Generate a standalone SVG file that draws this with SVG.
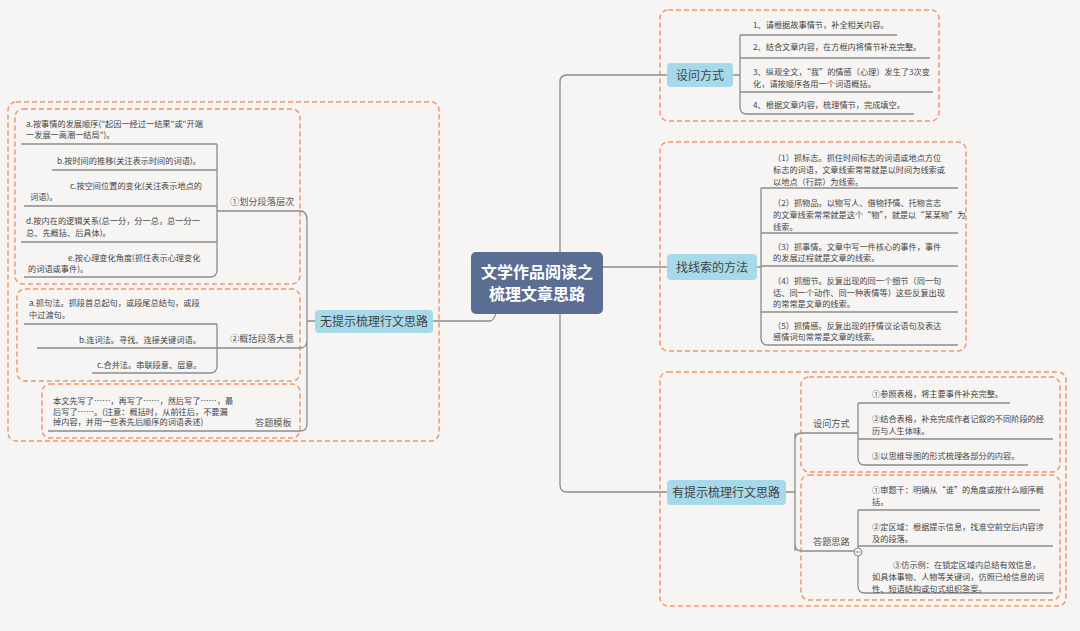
<svg xmlns="http://www.w3.org/2000/svg" width="1080" height="631" viewBox="0 0 1080 631">
<style>
text{font-family:"Noto Sans CJK SC","Liberation Sans",sans-serif;fill:#444}
.s{font-size:8.2px}
.l{font-size:9.2px;fill:#555}
.m{font-size:12px;fill:#444}
.box{fill:none;stroke:#f0986a;stroke-width:1.5;stroke-dasharray:5 3}
.ln{fill:none;stroke:#8c8c8c;stroke-width:1.3}
.nd{fill:#a6d9ea}
</style>
<rect width="1080" height="631" fill="#f7f5f4"/>
<g id="boxes">
<rect class="box" x="8" y="102" width="431" height="339" rx="8"/>
<rect class="box" x="15" y="109" width="285" height="175" rx="8"/>
<rect class="box" x="17" y="289" width="283" height="92" rx="8"/>
<rect class="box" x="42" y="384" width="258" height="54" rx="8"/>
<rect class="box" x="660" y="10" width="279" height="111" rx="8"/>
<rect class="box" x="660" y="142" width="306" height="209" rx="8"/>
<rect class="box" x="660" y="372" width="406" height="234" rx="8"/>
<rect class="box" x="801" y="377" width="259" height="95" rx="8"/>
<rect class="box" x="801" y="475" width="259" height="125" rx="8"/>
</g>
<g id="connectors">
<path class="ln" d="M471 290 H500 Q497 321 490 321 H433"/>
<path class="ln" d="M315 321 H307 M307 220 V424 Q307 431 300 431 M307 220 Q307 211 300 211 H217 M307 340 Q307 348 300 348 H217 M300 431 H48"/>
<path class="ln" d="M217 144 V270 Q217 277 210 277 H24 M217 144 H21 M217 170 H52 M217 206 H24 M217 242 H21"/>
<path class="ln" d="M217 324 V366 Q217 373 210 373 H92 M217 324 H24 M217 348 H37"/>
<path class="ln" d="M603 283 H567 Q560 283 560 276 V82 Q560 75 567 75 H667 M560 267 H667 M560 283 V485 Q560 492 567 492 H667"/>
<path class="ln" d="M733 75 H740 M740 35 V107 Q740 114 747 114 H914 M740 35 H897 M740 58 H930 M740 92 H933"/>
<path class="ln" d="M757 267 H761 M761 188 V338 Q761 345 768 345 H958 M761 188 H958 M761 233 H958 M761 266 H958 M761 312 H958"/>
<path class="ln" d="M786 492 H795 M795 440 Q795 433 802 433 H858 M795 440 V544 Q795 551 802 551 H858 M795 433 V551"/>
<path class="ln" d="M858 403 V458 Q858 465 865 465 H1028 M858 403 H1010 M858 439 H1053"/>
<path class="ln" d="M858 510 V586 Q858 593 865 593 H1053 M858 510 H1040 M858 546 H1053"/>
<circle cx="858" cy="552" r="4" fill="#f7f5f4" stroke="#8c8c8c"/><path d="M855.5 552 H860.5" stroke="#8c8c8c"/>
</g>
<g id="center"><rect x="471" y="252" width="132" height="62" rx="5" fill="#5a6e94"/>
<text x="537" y="278" text-anchor="middle" style="font-size:16px;font-weight:bold;fill:#fff">文学作品阅读之</text>
<text x="537" y="300" text-anchor="middle" style="font-size:16px;font-weight:bold;fill:#fff">梳理文章思路</text></g>
<g id="n-left"><rect class="nd" x="315" y="310" width="118" height="23" rx="4"/><text class="m" x="374" y="326" text-anchor="middle">无提示梳理行文思路</text></g>
<g id="n-sw"><rect class="nd" x="667" y="63" width="66" height="24" rx="4"/><text class="m" x="700" y="80" text-anchor="middle">设问方式</text></g>
<g id="n-xs"><rect class="nd" x="667" y="254" width="90" height="26" rx="4"/><text class="m" x="712" y="272" text-anchor="middle">找线索的方法</text></g>
<g id="n-yt"><rect class="nd" x="667" y="480" width="119" height="25" rx="4"/><text class="m" x="726" y="497" text-anchor="middle">有提示梳理行文思路</text></g>
<g id="labels">
<text class="l" x="230" y="205">①划分段落层次</text>
<text class="l" x="230" y="342">②概括段落大意</text>
<text class="l" x="255" y="426">答题模板</text>
<text class="l" x="813" y="427">设问方式</text>
<text class="l" x="813" y="545">答题思路</text>
</g>
<g id="leaves">
<text class="s" x="26" y="127">a.按事情的发展顺序("起因一经过一结果"或"开端</text><text class="s" x="26" y="138">一发展一高潮一结局")。</text>
<text class="s" x="57" y="164">b.按时间的推移(关注表示时间的词语)。</text>
<text class="s" x="70" y="189">c.按空间位置的变化(关注表示地点的</text><text class="s" x="30" y="200">词语)。</text>
<text class="s" x="26" y="224">d.按内在的逻辑关系(总一分，分一总，总一分一</text><text class="s" x="26" y="236">总、先概括、后具体)。</text>
<text class="s" x="68" y="261">e.按心理变化角度(抓住表示心理变化</text><text class="s" x="28" y="272">的词语或事件)。</text>
<text class="s" x="29" y="306">a.抓句法。抓段首总起句，或段尾总结句，或段</text><text class="s" x="29" y="318">中过渡句。</text>
<text class="s" x="79" y="343">b.连词法。寻找、连接关键词语。</text>
<text class="s" x="97" y="368">c.合并法。串联段意、层意。</text>
<text class="s" x="53" y="404">本文先写了……，再写了……，然后写了……，最</text><text class="s" x="53" y="415">后写了……。(注意：概括时，从前往后，不要漏</text><text class="s" x="53" y="425">掉内容，并用一些表先后顺序的词语表述)</text>
<text class="s" x="753" y="28">1、请根据故事情节，补全相关内容。</text>
<text class="s" x="753" y="50">2、结合文章内容，在方框内将情节补充完整。</text>
<text class="s" x="753" y="75">3、纵观全文，“我”的情感（心理）发生了3次变</text><text class="s" x="753" y="87">化，请按顺序各用一个词语概括。</text>
<text class="s" x="753" y="108">4、根据文章内容，梳理情节，完成填空。</text>
<text class="s" x="773" y="161">（1）抓标志。抓住时间标志的词语或地点方位</text><text class="s" x="773" y="173">标志的词语，文章线索常常就是以时间为线索或</text><text class="s" x="773" y="185">以地点（行踪）为线索。</text>
<text class="s" x="773" y="206">（2）抓物品。以物写人、借物抒情、托物言志</text><text class="s" x="773" y="218">的文章线索常常就是这个“物”，就是以“某某物”为</text><text class="s" x="773" y="230">线索。</text>
<text class="s" x="773" y="250">（3）抓事情。文章中写一件核心的事件，事件</text><text class="s" x="773" y="261">的发展过程就是文章的线索。</text>
<text class="s" x="773" y="284">（4）抓细节。反复出现的同一个细节（同一句</text><text class="s" x="773" y="296">话、同一个动作、同一种表情等）这些反复出现</text><text class="s" x="773" y="307">的常常是文章的线索。</text>
<text class="s" x="773" y="329">（5）抓情感。反复出现的抒情议论语句及表达</text><text class="s" x="773" y="340">感情词句常常是文章的线索。</text>
<text class="s" x="872" y="397">①参照表格，将主要事件补充完整。</text>
<text class="s" x="872" y="422">②结合表格，补充完成作者记叙的不同阶段的经</text><text class="s" x="872" y="434">历与人生体味。</text>
<text class="s" x="872" y="459">③以思维导图的形式梳理各部分的内容。</text>
<text class="s" x="872" y="493">①审题干：明确从“谁”的角度或按什么顺序概</text><text class="s" x="872" y="505">括。</text>
<text class="s" x="872" y="530">②定区域：根据提示信息，找准空前空后内容涉</text><text class="s" x="872" y="542">及的段落。</text>
<text class="s" x="893" y="568">③仿示例：在锁定区域内总结有效信息，</text><text class="s" x="872" y="580">如具体事物、人物等关键词，仿照已给信息的词</text><text class="s" x="872" y="592">性、短语结构或句式组织答案。</text>
</g>
</svg>
